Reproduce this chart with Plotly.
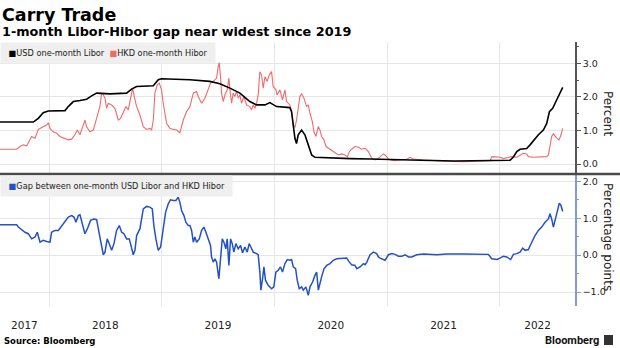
import plotly.graph_objects as go
from datetime import datetime

# ---------------- data (decimal years) ----------------
libor_t = [2017.565, 2017.861, 2017.905, 2017.949, 2017.994, 2018.142, 2018.171, 2018.216, 2018.275,
           2018.334, 2018.378, 2018.423, 2018.541, 2018.689, 2018.733, 2018.778, 2018.926, 2018.970,
           2018.999, 2019.133, 2019.251, 2019.428, 2019.517, 2019.606, 2019.695, 2019.783, 2019.843,
           2019.917, 2019.961, 2020.020, 2020.138, 2020.153, 2020.168, 2020.183, 2020.197, 2020.212,
           2020.242, 2020.271, 2020.301, 2020.331, 2020.360, 2020.493, 2020.671, 2020.848, 2021.030,
           2021.300, 2021.600, 2021.900, 2022.091, 2022.120, 2022.150, 2022.179, 2022.238, 2022.268,
           2022.312, 2022.342, 2022.386, 2022.416, 2022.440, 2022.469, 2022.490, 2022.519, 2022.549,
           2022.558]
libor_v = [1.25, 1.25, 1.36, 1.53, 1.58, 1.59, 1.71, 1.86, 1.89,
           1.93, 2.03, 2.11, 2.09, 2.11, 2.23, 2.31, 2.33, 2.51,
           2.54, 2.53, 2.51, 2.46, 2.39, 2.26, 2.11, 1.86, 1.76,
           1.76, 1.83, 1.71, 1.68, 1.56, 1.11, 0.76, 0.61, 0.87,
           1.01, 0.87, 0.57, 0.27, 0.20, 0.18, 0.16, 0.15, 0.13,
           0.11, 0.09, 0.10, 0.11, 0.21, 0.37, 0.44, 0.46, 0.57,
           0.77, 0.87, 1.01, 1.21, 1.56, 1.66, 1.81, 2.01, 2.26,
           2.28]

hibor_t = [2017.565, 2017.713, 2017.742, 2017.772, 2017.802, 2017.846, 2017.876, 2017.905, 2017.935,
           2017.979, 2017.994, 2018.009, 2018.038, 2018.068, 2018.097, 2018.127, 2018.171, 2018.201,
           2018.230, 2018.251, 2018.275, 2018.304, 2018.319, 2018.334, 2018.364, 2018.393, 2018.423,
           2018.452, 2018.467, 2018.482, 2018.497, 2018.511, 2018.526, 2018.556, 2018.585, 2018.615,
           2018.636, 2018.659, 2018.683, 2018.704, 2018.727, 2018.742, 2018.757, 2018.778, 2018.807,
           2018.837, 2018.866, 2018.896, 2018.911, 2018.926, 2018.940, 2018.961, 2018.979, 2018.999,
           2019.014, 2019.044, 2019.073, 2019.103, 2019.133, 2019.162, 2019.177, 2019.192, 2019.221,
           2019.251, 2019.281, 2019.310, 2019.325, 2019.355, 2019.384, 2019.414, 2019.434, 2019.458,
           2019.488, 2019.502, 2019.511, 2019.523, 2019.532, 2019.547, 2019.562, 2019.582, 2019.597,
           2019.606, 2019.621, 2019.635, 2019.650, 2019.665, 2019.680, 2019.695, 2019.709, 2019.730,
           2019.754, 2019.783, 2019.798, 2019.813, 2019.828, 2019.843, 2019.857, 2019.872, 2019.887,
           2019.902, 2019.917, 2019.937, 2019.955, 2019.976, 2019.990, 2020.014, 2020.026, 2020.050,
           2020.073, 2020.094, 2020.109, 2020.138, 2020.153, 2020.168, 2020.183, 2020.197, 2020.212,
           2020.227, 2020.242, 2020.263, 2020.286, 2020.301, 2020.316, 2020.337, 2020.351, 2020.369,
           2020.390, 2020.405, 2020.419, 2020.440, 2020.458, 2020.478, 2020.508, 2020.538, 2020.567,
           2020.597, 2020.626, 2020.647, 2020.665, 2020.685, 2020.715, 2020.745, 2020.774, 2020.804,
           2020.833, 2020.863, 2020.893, 2020.922, 2020.937, 2020.967, 2020.990, 2021.011, 2021.055,
           2021.114, 2021.174, 2021.203, 2021.233, 2021.321, 2021.410, 2021.529, 2021.676, 2021.824,
           2021.913, 2021.928, 2022.002, 2022.031, 2022.076, 2022.105, 2022.150, 2022.179, 2022.209,
           2022.238, 2022.253, 2022.298, 2022.357, 2022.416, 2022.431, 2022.445, 2022.460, 2022.475,
           2022.505, 2022.525, 2022.543, 2022.558]
hibor_v = [0.44, 0.44, 0.52, 0.57, 0.54, 0.82, 0.77, 1.03, 1.09,
           1.16, 1.23, 1.06, 0.96, 0.92, 0.82, 0.77, 0.72, 0.74,
           0.87, 1.01, 0.87, 1.16, 1.31, 1.11, 0.96, 1.01, 1.41,
           1.71, 2.11, 2.06, 1.96, 1.66, 1.81, 1.76, 1.66, 1.31,
           1.36, 1.56, 1.71, 1.61, 2.01, 2.26, 2.01, 1.71, 1.46,
           1.11, 1.03, 1.06, 1.01, 1.31, 2.11, 2.36, 2.41, 2.21,
           1.81, 1.21, 1.06, 1.03, 1.01, 0.93, 1.11, 1.31, 1.56,
           1.71, 2.11, 2.16, 2.01, 1.81, 1.96, 2.21, 2.41, 2.46,
           2.56, 2.90, 3.02, 2.60, 2.11, 1.86, 2.06, 2.21, 2.56,
           2.21, 1.81, 2.11, 2.01, 2.16, 1.96, 2.06, 1.81, 2.01,
           1.76, 1.71, 1.61, 1.76, 1.66, 1.81, 2.06, 2.75, 2.65,
           2.26, 2.60, 2.46, 2.65, 2.75, 2.31, 2.21, 2.06, 2.21,
           1.91, 2.21, 1.86, 1.76, 1.56, 1.16, 1.09, 1.31, 1.71,
           2.01, 2.09, 1.96, 1.71, 1.76, 1.51, 1.26, 0.96, 0.82,
           1.12, 1.01, 0.82, 0.72, 0.52, 0.47, 0.42, 0.32, 0.27,
           0.30, 0.27, 0.21, 0.37, 0.44, 0.52, 0.50, 0.44, 0.47,
           0.37, 0.17, 0.12, 0.17, 0.22, 0.30, 0.24, 0.14, 0.10,
           0.12, 0.14, 0.20, 0.15, 0.12, 0.10, 0.08, 0.07, 0.08,
           0.10, 0.22, 0.20, 0.16, 0.20, 0.22, 0.20, 0.27, 0.32,
           0.30, 0.22, 0.20, 0.20, 0.22, 0.27, 0.52, 0.82, 0.90,
           0.77, 0.72, 0.87, 1.06]

gap_t = [2017.565, 2017.713, 2017.728, 2017.757, 2017.787, 2017.816, 2017.846, 2017.876, 2017.896,
         2017.920, 2017.949, 2017.979, 2018.009, 2018.023, 2018.053, 2018.083, 2018.112, 2018.142,
         2018.171, 2018.201, 2018.222, 2018.239, 2018.260, 2018.275, 2018.298, 2018.319, 2018.340,
         2018.369, 2018.399, 2018.423, 2018.446, 2018.467, 2018.482, 2018.497, 2018.517, 2018.535,
         2018.556, 2018.577, 2018.600, 2018.624, 2018.645, 2018.665, 2018.689, 2018.713, 2018.733,
         2018.748, 2018.763, 2018.778, 2018.807, 2018.837, 2018.866, 2018.896, 2018.917, 2018.931,
         2018.949, 2018.970, 2018.991, 2019.014, 2019.035, 2019.059, 2019.079, 2019.103, 2019.127,
         2019.147, 2019.162, 2019.177, 2019.198, 2019.215, 2019.236, 2019.251, 2019.266, 2019.281,
         2019.295, 2019.310, 2019.334, 2019.355, 2019.375, 2019.393, 2019.414, 2019.434, 2019.443,
         2019.458, 2019.473, 2019.488, 2019.508, 2019.523, 2019.538, 2019.553, 2019.570, 2019.582,
         2019.597, 2019.612, 2019.627, 2019.641, 2019.659, 2019.680, 2019.701, 2019.718, 2019.739,
         2019.760, 2019.777, 2019.792, 2019.813, 2019.843, 2019.857, 2019.872, 2019.881, 2019.896,
         2019.908, 2019.922, 2019.946, 2019.976, 2019.996, 2020.014, 2020.035, 2020.055, 2020.073,
         2020.094, 2020.115, 2020.138, 2020.153, 2020.168, 2020.189, 2020.203, 2020.221, 2020.242,
         2020.257, 2020.280, 2020.301, 2020.316, 2020.339, 2020.360, 2020.375, 2020.390, 2020.405,
         2020.419, 2020.440, 2020.464, 2020.493, 2020.523, 2020.552, 2020.597, 2020.641, 2020.665,
         2020.685, 2020.715, 2020.730, 2020.759, 2020.789, 2020.804, 2020.819, 2020.848, 2020.878,
         2020.907, 2020.922, 2020.937, 2020.967, 2020.981, 2021.011, 2021.041, 2021.070, 2021.100,
         2021.129, 2021.159, 2021.188, 2021.218, 2021.262, 2021.321, 2021.440, 2021.529, 2021.676,
         2021.824, 2021.898, 2021.928, 2021.972, 2022.002, 2022.031, 2022.061, 2022.096, 2022.120,
         2022.150, 2022.179, 2022.203, 2022.224, 2022.253, 2022.283, 2022.312, 2022.342, 2022.371,
         2022.401, 2022.431, 2022.445, 2022.460, 2022.475, 2022.490, 2022.510, 2022.528, 2022.543,
         2022.558]
gap_v = [0.82, 0.82, 0.76, 0.69, 0.62, 0.58, 0.44, 0.49, 0.62,
         0.35, 0.40, 0.37, 0.35, 0.62, 0.67, 0.67, 0.80, 0.91,
         1.03, 1.07, 1.03, 0.89, 1.07, 1.09, 0.85, 0.58, 0.71,
         0.94, 0.98, 0.96, 0.58, 0.26, 0.01, 0.08, 0.44, 0.31,
         0.13, 0.31, 0.67, 0.80, 0.62, 0.58, 0.44, 0.44, 0.17,
         0.01, 0.13, 0.53, 0.71, 1.25, 1.32, 1.30, 1.25, 0.80,
         0.44, 0.13, 0.22, 0.80, 1.16, 1.39, 1.50, 1.48, 1.48,
         1.57, 1.43, 1.21, 1.07, 0.89, 0.80, 0.80, 0.67, 0.35,
         0.49, 0.35, 0.44, 0.67, 0.76, 0.62, 0.40, 0.26, -0.05,
         -0.19, -0.10, -0.19, -0.64, -0.05, 0.44, 0.35, 0.17, 0.44,
         -0.28, 0.44, 0.31, 0.08, 0.31, 0.17, 0.26, 0.06, 0.22,
         0.08, 0.31, 0.22, 0.08, 0.04, 0.01, -0.46, -0.95, -0.64,
         -0.32, -0.68, -0.82, -0.91, -0.86, -0.46, -0.41, -0.32, -0.46,
         -0.23, -0.12, -0.14, -0.12, -0.32, -0.37, -0.68, -0.91, -0.86,
         -0.95, -0.86, -1.09, -0.86, -0.73, -0.55, -0.46, -0.95, -0.73,
         -0.59, -0.37, -0.28, -0.23, -0.14, -0.10, -0.08, -0.08, -0.19,
         -0.26, -0.28, -0.37, -0.32, -0.23, -0.26, -0.19, 0.01, 0.08,
         0.04, -0.05, -0.08, -0.12, -0.14, 0.01, 0.04, 0.02, -0.03,
         -0.03, 0.01, -0.05, -0.05, 0.01, 0.03, 0.01, 0.03, 0.03,
         0.03, 0.02, -0.10, -0.12, -0.08, -0.03, -0.05, -0.12, 0.02,
         0.04, 0.08, 0.19, 0.13, 0.15, 0.35, 0.53, 0.67, 0.76,
         0.89, 0.98, 1.12, 0.98, 0.76, 0.94, 1.16, 1.41, 1.34,
         1.18]

year_labels = ["2017", "2018", "2019", "2020", "2021", "2022"]
year_label_pos = [2017.782, 2018.5, 2019.5, 2020.5, 2021.5, 2022.335]
year_starts = [2018, 2019, 2020, 2021, 2022]
x_span = [2017.565, 2022.667]


def dec2date(t):
    y = int(t)
    a = datetime(y, 1, 1)
    b = datetime(y + 1, 1, 1)
    return a + (b - a) * (t - y)


def dates(ts):
    return [dec2date(t) for t in ts]


FONT = "DejaVu Sans"
RED = "#f06a6a"
BLUE = "#2451c4"
GRID = "#e6e6e6"

fig = go.Figure()
fig.add_trace(go.Scatter(x=dates(hibor_t), y=hibor_v, mode="lines", xaxis="x", yaxis="y",
                         line=dict(color=RED, width=1.1), hoverinfo="skip"))
fig.add_trace(go.Scatter(x=dates(libor_t), y=libor_v, mode="lines", xaxis="x", yaxis="y",
                         line=dict(color="#000000", width=1.6), hoverinfo="skip"))
fig.add_trace(go.Scatter(x=dates(gap_t), y=gap_v, mode="lines", xaxis="x", yaxis="y2",
                         line=dict(color=BLUE, width=1.5), hoverinfo="skip"))

PT, PB, PH = 42, 306, 264  # plot top / bottom / height in px


def py(pix):
    return (PB - pix) / PH


def px(pix):
    return pix / 575.0


fig.update_layout(
    width=620, height=348,
    margin=dict(l=0, r=45, t=PT, b=348 - PB),
    paper_bgcolor="white", plot_bgcolor="white",
    showlegend=False,
    font=dict(family=FONT, color="#222"),
    xaxis=dict(
        type="date", anchor="y2",
        range=dates(x_span),
        tickmode="array", tickvals=dates(year_label_pos), ticktext=year_labels,
        showgrid=False, showline=False, zeroline=False, ticks="",
        tickfont=dict(size=10.5, color="#222"),
        ticklabelstandoff=11,
        minor=dict(tickmode="array", tickvals=dates(year_starts), showgrid=True,
                   gridcolor=GRID, gridwidth=1, ticks=""),
    ),
    yaxis=dict(
        domain=[py(173), 1], side="right", anchor="x",
        range=[-0.268, 3.634],
        tickmode="array", tickvals=[0, 1, 2, 3], tickformat=".1f",
        showgrid=True, gridcolor=GRID, zeroline=False,
        showline=True, linecolor="#555", linewidth=1.5,
        ticks="outside", ticklen=4, tickcolor="#555", tickwidth=1,
        tickfont=dict(size=9.5, color="#222"),
        minor=dict(tickmode="linear", tick0=0, dtick=0.5, ticks="outside", ticklen=2.5,
                   tickcolor="#555", showgrid=False),
    ),
    yaxis2=dict(
        domain=[0, py(175)], side="right", anchor="x",
        range=[-1.379, 2.171],
        tickmode="array", tickvals=[-1, 0, 1, 2], tickformat=".1f",
        showgrid=True, gridcolor=GRID, zeroline=False,
        showline=True, linecolor="#7f9dd2", linewidth=1.5,
        ticks="outside", ticklen=4, tickcolor="#7f9dd2", tickwidth=1,
        tickfont=dict(size=9.5, color="#222"),
        minor=dict(tickmode="linear", tick0=0, dtick=0.5, ticks="outside", ticklen=2.5,
                   tickcolor="#7f9dd2", showgrid=False),
    ),
)

# panel separator
fig.add_shape(type="line", xref="paper", yref="paper", x0=0, x1=620 / 575.0,
              y0=py(174), y1=py(174), line=dict(color="#4a4a4a", width=2.5))

NB = "\u00a0"
ann = [
    dict(text="<b>Carry Trade</b>", x=0, y=py(3), xanchor="left", yanchor="top",
         font=dict(size=17.5, color="#000", family=FONT)),
    dict(text="<b>1-month Libor-Hibor gap near widest since 2019</b>", x=0, y=py(31.5),
         xanchor="left", yanchor="middle", font=dict(size=12.8, color="#000", family=FONT)),
    dict(text=(NB + "<span style='color:#000'>■</span>USD one-month Libor" + NB * 2 +
               "<span style='color:" + RED + "'>■</span>HKD one-month Hibor" + NB),
         x=0, y=py(52.5), xanchor="left", yanchor="middle", bgcolor="#efefef", borderpad=5,
         font=dict(size=8.2, color="#222", family=FONT)),
    dict(text=(NB + "<span style='color:" + BLUE + "'>■</span>Gap between one-month USD Libor and HKD Hibor" + NB),
         x=0, y=py(185.5), xanchor="left", yanchor="middle", bgcolor="#efefef", borderpad=5,
         font=dict(size=8.2, color="#222", family=FONT)),
    dict(text="Percent", x=px(608), y=py(113), xanchor="center", yanchor="middle", textangle=90,
         font=dict(size=12, color="#222", family=FONT)),
    dict(text="Percentage points", x=px(608), y=py(237), xanchor="center", yanchor="middle",
         textangle=90, font=dict(size=12, color="#222", family=FONT)),
    dict(text="<b>Source: Bloomberg</b>", x=px(2), y=py(341), xanchor="left", yanchor="middle",
         font=dict(size=8.5, color="#000", family=FONT)),
    dict(text="<b>Bloomberg</b>", x=px(601), y=py(340), xanchor="right", yanchor="middle",
         font=dict(size=11, color="#111", family="Roboto")),
]
for a in ann:
    a.update(xref="paper", yref="paper", showarrow=False)
    fig.add_annotation(**a)

# small logo tile next to the wordmark
fig.add_shape(type="rect", xref="paper", yref="paper", x0=px(604), x1=px(613),
              y0=py(345), y1=py(335), fillcolor="#333", line=dict(width=0))

fig.write_html("out.html")
